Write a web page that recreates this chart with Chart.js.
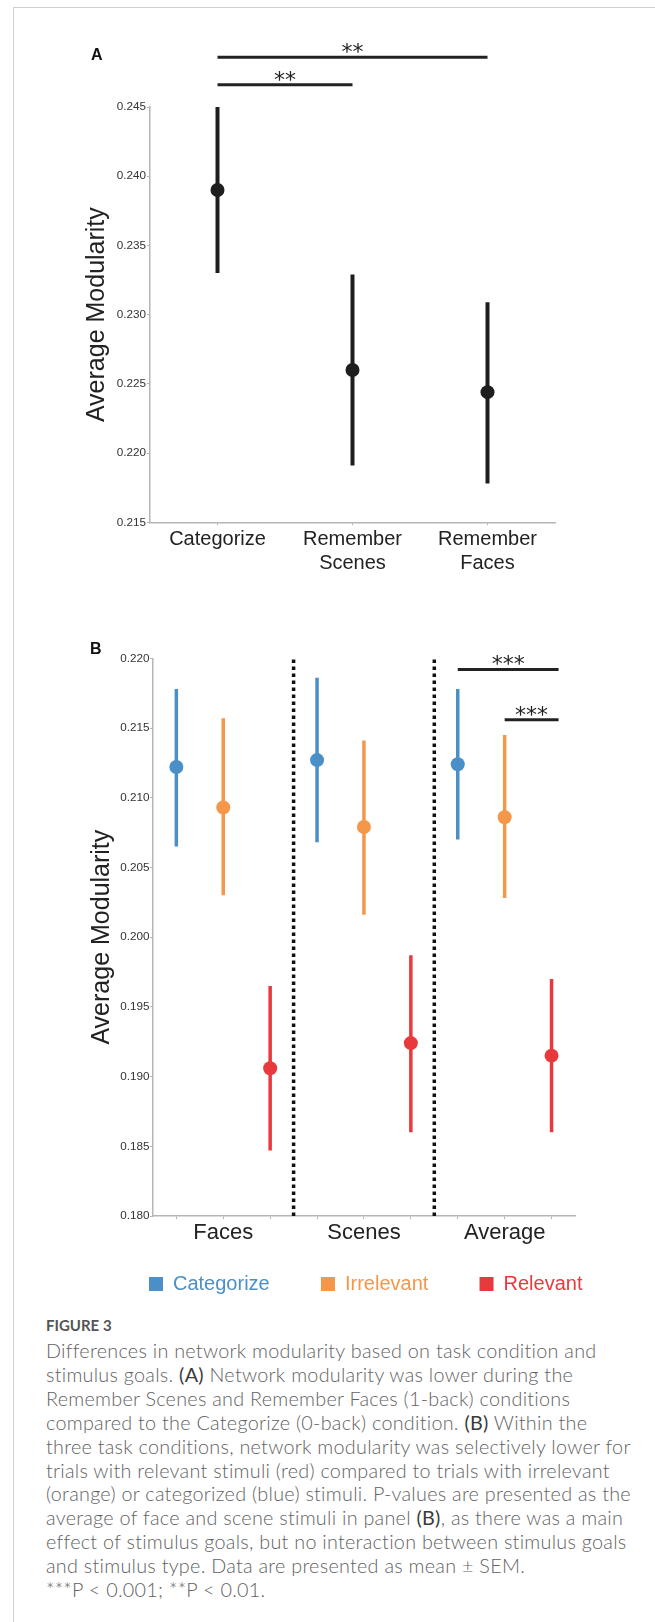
<!DOCTYPE html>
<html lang="en">
<head>
    <meta charset="UTF-8">
    <title>Figure 3 - Network modularity</title>
    <script src="https://cdn.jsdelivr.net/npm/chart.js"></script>
    <style>
        body { margin: 0; background: #fff; font-family: 'Liberation Sans', Arial, sans-serif; }
        .page { position: relative; width: 655px; height: 1622px; overflow: hidden; }
        .frame { position: absolute; left: 13px; top: 7px; right: -5px; bottom: -5px; border-top: 1.5px solid #cfcfcf; border-left: 1.5px solid #cfcfcf; }
        canvas { position: absolute; left: 0; }
        #chartA { top: 0; }
        #chartB { top: 600px; }
        .panel { position: absolute; font-weight: bold; font-size: 16px; color: #111; line-height: 1; }
        .figlabel { position: absolute; left: 46px; top: 1316px; font-family: Lato, sans-serif; font-weight: bold; font-size: 15px; color: #555; }
        .caption { position: absolute; left: 46px; top: 1339px; font-family: Lato, sans-serif; font-weight: 300; font-size: 19.8px; letter-spacing: 0.27px; line-height: 23.9px; color: #626262; white-space: pre; }
        .caption b { color: #3a3a3a; }
    </style>
</head>
<body>
<div class="page">
    <div class="frame"></div>
    <canvas id="chartA" width="655" height="600"></canvas>
    <canvas id="chartB" width="655" height="704"></canvas>
    <div class="panel" style="left:91px; top:47px;">A</div>
    <div class="panel" style="left:90px; top:641px;">B</div>
    <div class="figlabel">FIGURE 3</div>
    <div class="caption">Differences in network modularity based on task condition and
stimulus goals. <b>(A)</b> Network modularity was lower during the
Remember Scenes and Remember Faces (1-back) conditions
compared to the Categorize (0-back) condition. <b>(B)</b> Within the
three task conditions, network modularity was selectively lower for
trials with relevant stimuli (red) compared to trials with irrelevant
(orange) or categorized (blue) stimuli. P-values are presented as the
average of face and scene stimuli in panel <b>(B)</b>, as there was a main
effect of stimulus goals, but no interaction between stimulus goals
and stimulus type. Data are presented as mean &plusmn; SEM.
***P &lt; 0.001; **P &lt; 0.01.</div>
</div>

<script>
    // Panel A: task conditions
    const catsA = ['Categorize', 'Remember Scenes', 'Remember Faces'];
    const meanA = [0.2390, 0.2260, 0.2244];
    const lowA  = [0.2330, 0.2191, 0.2178];
    const highA = [0.2450, 0.2329, 0.2309];
    const yTicksA = [0.215, 0.220, 0.225, 0.230, 0.235, 0.240, 0.245];

    // Panel B: stimulus goals within each stimulus type
    const groupsB = ['Faces', 'Scenes', 'Average'];
    const seriesB = ['Categorize', 'Irrelevant', 'Relevant'];
    const coloursB = ['#4b8fc8', '#f5974a', '#e8393d'];
    const meanCategorize = [0.2122, 0.2127, 0.2124];
    const lowCategorize  = [0.2065, 0.2068, 0.2070];
    const highCategorize = [0.2178, 0.2186, 0.2178];
    const meanIrrelevant = [0.2093, 0.2079, 0.2086];
    const lowIrrelevant  = [0.2030, 0.2016, 0.2028];
    const highIrrelevant = [0.2157, 0.2141, 0.2145];
    const meanRelevant = [0.1906, 0.1924, 0.1915];
    const lowRelevant  = [0.1847, 0.1860, 0.1860];
    const highRelevant = [0.1965, 0.1987, 0.1970];
    const yTicksB = [0.180, 0.185, 0.190, 0.195, 0.200, 0.205, 0.210, 0.215, 0.220];
    const separatorsB = [2.5, 5.5];

    // significance brackets (x in axis units, level in y units)
    const sigA = [
        {from: 0, to: 2, level: 0.2486, label: '**'},
        {from: 0, to: 1, level: 0.2466, label: '**'}
    ];
    const sigB = [
        {from: 6, to: 8.15, level: 0.2192, label: '***'},
        {from: 7, to: 8.15, level: 0.2156, label: '***'}
    ];

    Chart.defaults.font.family = "'Liberation Sans', Arial, sans-serif";
    Chart.defaults.color = '#222';

    function errorBarData(xs, lo, hi) {
        let pts = [];
        xs.forEach((x, i) => {
            pts.push({x: x, y: lo[i]}, {x: x, y: hi[i]}, {x: x, y: null});
        });
        return pts;
    }

    function sigPlugin(bars) {
        return {
            id: 'sig',
            afterDatasetsDraw(chart) {
                const {ctx, scales} = chart;
                ctx.save();
                ctx.strokeStyle = '#222';
                ctx.fillStyle = '#222';
                ctx.lineWidth = 3;
                ctx.font = '22px "DejaVu Sans"';
                ctx.textAlign = 'center';
                ctx.textBaseline = 'alphabetic';
                bars.forEach(b => {
                    let x0 = scales.x.getPixelForValue(b.from);
                    let x1 = scales.x.getPixelForValue(b.to);
                    let y = scales.y.getPixelForValue(b.level);
                    ctx.beginPath();
                    ctx.moveTo(x0, y);
                    ctx.lineTo(x1, y);
                    ctx.stroke();
                    ctx.fillText(b.label, (x0 + x1) / 2, y + 2);
                });
                ctx.restore();
            }
        };
    }

    const axisGrey = '#b5b5b5';

    // ---- Panel A ----
    const xsA = catsA.map((c, i) => i);
    new Chart(document.getElementById('chartA'), {
        type: 'scatter',
        data: {
            datasets: [{
                data: xsA.map((x, i) => ({x: x, y: meanA[i]})),
                pointRadius: 7,
                pointBackgroundColor: '#1e1e1e',
                pointBorderWidth: 0
            }, {
                data: errorBarData(xsA, lowA, highA),
                showLine: true,
                spanGaps: false,
                borderColor: '#1e1e1e',
                borderWidth: 4,
                borderCapStyle: 'butt',
                pointRadius: 0
            }]
        },
        options: {
            responsive: false,
            animation: false,
            layout: { padding: { top: 107, left: 0, right: 100, bottom: 0 } },
            plugins: { legend: { display: false }, tooltip: { enabled: false } },
            scales: {
                x: {
                    type: 'linear', min: -0.5, max: 2.5,
                    afterBuildTicks: s => { s.ticks = xsA.map(v => ({value: v})); },
                    afterFit: s => { s.height = 77.7; },
                    ticks: {
                        autoSkip: false, maxRotation: 0, minRotation: 0,
                        padding: 2,
                        font: { size: 20 },
                        color: '#222',
                        callback: v => catsA[v] ? catsA[v].split(' ') : ''
                    },
                    grid: { drawOnChartArea: false, tickLength: 3, color: axisGrey },
                    border: { color: axisGrey, width: 1.5 }
                },
                y: {
                    min: 0.215, max: 0.245,
                    afterBuildTicks: s => { s.ticks = yTicksA.map(v => ({value: v})); },
                    afterFit: s => { s.width = 150; },
                    ticks: {
                        padding: 1,
                        font: { size: 11.7 },
                        color: '#333',
                        callback: v => v.toFixed(3)
                    },
                    title: {
                        display: true, text: 'Average Modularity',
                        font: { size: 25 }, color: '#222',
                        padding: { top: 82.5, bottom: 0 }
                    },
                    grid: { drawOnChartArea: false, tickLength: 3, color: axisGrey },
                    border: { color: axisGrey, width: 1.5 }
                }
            }
        },
        plugins: [sigPlugin(sigA)]
    });

    // ---- Panel B ----
    const meansB = [meanCategorize, meanIrrelevant, meanRelevant];
    const lowsB = [lowCategorize, lowIrrelevant, lowRelevant];
    const highsB = [highCategorize, highIrrelevant, highRelevant];
    const nSeries = seriesB.length;
    const xTicksB = [];
    for (let i = 0; i < groupsB.length * nSeries; i++) xTicksB.push(i);

    let datasetsB = [];
    seriesB.forEach((name, s) => {
        let xs = groupsB.map((g, gi) => gi * nSeries + s);
        datasetsB.push({
            label: name,
            data: xs.map((x, i) => ({x: x, y: meansB[s][i]})),
            pointRadius: 7,
            pointBackgroundColor: coloursB[s],
            pointBorderWidth: 0
        });
        datasetsB.push({
            label: name + ' SEM',
            data: errorBarData(xs, lowsB[s], highsB[s]),
            showLine: true,
            spanGaps: false,
            borderColor: coloursB[s],
            borderWidth: 3.5,
            borderCapStyle: 'butt',
            pointRadius: 0
        });
    });
    datasetsB.push({
        label: 'separators',
        data: errorBarData(separatorsB, separatorsB.map(() => yTicksB[0]), separatorsB.map(() => yTicksB[yTicksB.length - 1])),
        showLine: true,
        spanGaps: false,
        borderColor: '#111',
        borderWidth: 3.5,
        borderDash: [3.5, 3.5],
        borderCapStyle: 'butt',
        pointRadius: 0
    });

    // a few trailing spaces widen each legend entry so the row spreads like the original
    const legendGap = '\u00a0\u00a0\u00a0\u00a0';

    new Chart(document.getElementById('chartB'), {
        type: 'scatter',
        data: { datasets: datasetsB },
        options: {
            responsive: false,
            animation: false,
            // left padding + legend padding puts the first legend item under the axis
            layout: { padding: { top: 58.3, left: 120, right: 0, bottom: 0 } },
            plugins: {
                tooltip: { enabled: false },
                legend: {
                    position: 'bottom',
                    align: 'start',
                    labels: {
                        boxWidth: 14,
                        boxHeight: 14,
                        padding: 29,
                        font: { size: 20 },
                        generateLabels: () => seriesB.map((s, i) => ({
                            text: s + legendGap,
                            fillStyle: coloursB[i],
                            strokeStyle: coloursB[i],
                            lineWidth: 0,
                            fontColor: coloursB[i],
                            hidden: false,
                            datasetIndex: i * 2
                        }))
                    }
                }
            },
            scales: {
                x: {
                    type: 'linear', min: -0.5, max: 8.5,
                    afterBuildTicks: s => { s.ticks = xTicksB.map(v => ({value: v})); },
                    afterFit: s => { s.height = 29; },
                    ticks: {
                        autoSkip: false, maxRotation: 0, minRotation: 0,
                        padding: 0.5,
                        font: { size: 22 },
                        color: '#222',
                        callback: v => (v % nSeries === 1) ? groupsB[Math.floor(v / nSeries)] : ''
                    },
                    grid: { drawOnChartArea: false, tickLength: 3, color: axisGrey },
                    border: { color: axisGrey, width: 1.5 }
                },
                y: {
                    min: 0.180, max: 0.220,
                    afterBuildTicks: s => { s.ticks = yTicksB.map(v => ({value: v})); },
                    afterFit: s => { s.width = 152.9 - 120; },
                    ticks: {
                        padding: 0.5,
                        font: { size: 11.7 },
                        color: '#333',
                        callback: v => v.toFixed(3)
                    },
                    title: {
                        display: true, text: 'Average Modularity',
                        font: { size: 25 }, color: '#222',
                        padding: { top: -32.5, bottom: 0 }
                    },
                    grid: { drawOnChartArea: false, tickLength: 3, color: axisGrey },
                    border: { color: axisGrey, width: 1.5 }
                },
                // empty right-hand box: keeps the plot narrower than the legend row
                yRight: {
                    position: 'right',
                    min: 0, max: 1,
                    afterFit: s => { s.width = 80; },
                    ticks: { display: false },
                    grid: { display: false },
                    border: { display: false }
                }
            }
        },
        plugins: [sigPlugin(sigB)]
    });
</script>
</body>
</html>
